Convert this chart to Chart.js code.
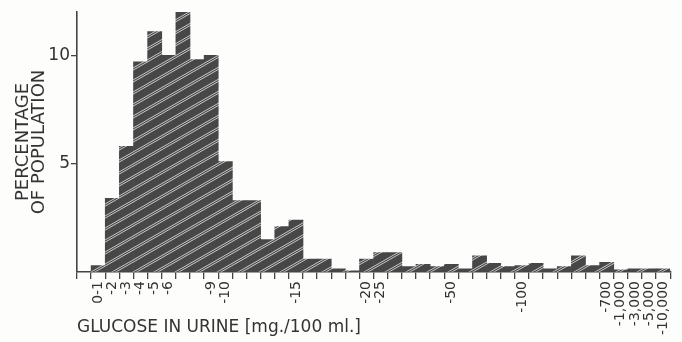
<!DOCTYPE html>
<html>
<head>
<meta charset="utf-8">
<script src="https://cdn.jsdelivr.net/npm/chart.js@4/dist/chart.umd.min.js"></script>
<style>
  html, body { margin: 0; padding: 0; background: #fdfdfc; }
  #wrap { width: 682px; height: 342px; }
</style>
</head>
<body>
<div id="wrap"><canvas id="glucoseChart" width="682" height="342"></canvas></div>
<script>
// one blank bin before "0-1", then 41 bins; only printed labels are kept
const binLabels = ['', '0-1', '-2', '-3', '-4', '-5', '-6', '', '', '-9', '-10',
  '', '', '', '', '-15', '', '', '', '', '-20', '-25',
  '', '', '', '', '-50', '', '', '', '', '-100',
  '', '', '', '', '', '-700', '-1,000', '-3,000', '-5,000', '-10,000'];

// percentage of population in each bin
const percentages = [0, 0.3, 3.4, 5.8, 9.7, 11.1, 10.0, 12.0, 9.8, 10.0, 5.1,
  3.3, 3.3, 1.5, 2.1, 2.4, 0.6, 0.6, 0.15, 0.05, 0.6, 0.9,
  0.9, 0.25, 0.35, 0.25, 0.35, 0.15, 0.75, 0.4, 0.25, 0.3,
  0.4, 0.15, 0.25, 0.75, 0.3, 0.45, 0.1, 0.15, 0.15, 0.15];

const yTickValues = [0, 5, 10];

const ink = '#333';
const fontFamily = "'DejaVu Sans', sans-serif";

// dark fill with thin light diagonal hatch lines
function makeHatch() {
    const c = document.createElement('canvas');
    c.width = 21;
    c.height = 12;
    const g = c.getContext('2d');
    g.fillStyle = '#474747';
    g.fillRect(0, 0, 21, 12);
    g.strokeStyle = 'rgba(232,232,232,0.9)';
    g.lineWidth = 0.9;
    for (const k of [-1, 0, 1]) {
        for (const d of [0, 2.2]) {
            g.beginPath();
            g.moveTo(0, 12 + k * 12 + d);
            g.lineTo(21, k * 12 + d);
            g.stroke();
        }
    }
    return g.createPattern(c, 'repeat');
}

const ctx = document.getElementById('glucoseChart').getContext('2d');
new Chart(ctx, {
    type: 'bar',
    data: {
        labels: binLabels,
        datasets: [{
            data: percentages,
            backgroundColor: makeHatch(),
            borderWidth: 0,
            barPercentage: 1,
            categoryPercentage: 1
        }]
    },
    options: {
        responsive: false,
        animation: false,
        devicePixelRatio: 1,
        layout: { padding: { top: 12, right: 0, left: 0, bottom: 0 } },
        plugins: {
            legend: { display: false },
            tooltip: { enabled: false }
        },
        scales: {
            x: {
                grid: {
                    drawOnChartArea: false,
                    drawTicks: true,
                    tickLength: 7,
                    color: '#444',
                    lineWidth: 1.3
                },
                border: { display: true, color: '#444', width: 1.6 },
                ticks: {
                    autoSkip: false,
                    minRotation: 90,
                    maxRotation: 90,
                    padding: 2,
                    color: ink,
                    font: { family: fontFamily, size: 14 }
                },
                title: {
                    display: true,
                    text: 'GLUCOSE IN URINE [mg./100 ml.]',
                    align: 'start',
                    color: ink,
                    font: { family: fontFamily, size: 17 },
                    padding: { top: 0, bottom: 4 }
                },
                afterFit: scale => { scale.height = 70; }
            },
            y: {
                min: 0,
                max: 12,
                grid: {
                    drawOnChartArea: false,
                    drawTicks: true,
                    tickLength: 6,
                    color: c => (c.tick && c.tick.value === 0 ? 'rgba(0,0,0,0)' : '#444'),
                    lineWidth: 1.3
                },
                border: { display: true, color: '#444', width: 1.6 },
                afterBuildTicks: scale => {
                    scale.ticks = yTickValues.map(v => ({ value: v }));
                },
                ticks: {
                    padding: 1,
                    color: ink,
                    font: { family: fontFamily, size: 17 },
                    callback: v => (v === 0 ? '' : v)
                },
                title: {
                    display: true,
                    text: ['PERCENTAGE', 'OF POPULATION'],
                    color: ink,
                    font: { family: fontFamily, size: 18, lineHeight: 0.85 },
                    padding: { top: 16, bottom: 0 }
                },
                afterFit: scale => { scale.width = 77; }
            }
        }
    }
});
</script>
</body>
</html>
